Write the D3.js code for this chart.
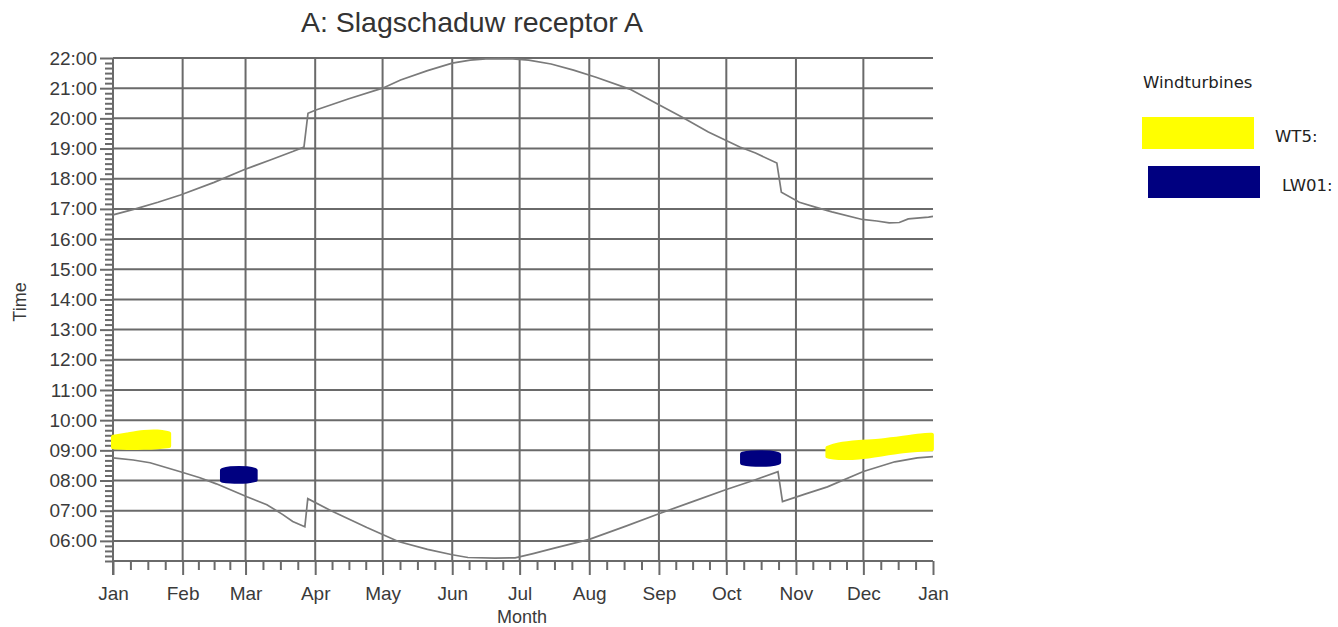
<!DOCTYPE html>
<html>
<head>
<meta charset="utf-8">
<script src="https://cdnjs.cloudflare.com/ajax/libs/d3/7.8.5/d3.min.js"></script>
<style>
  body { margin: 0; background: #fff; }
  text { font-family: "Liberation Sans", Arial, sans-serif; }
</style>
</head>
<body>
<div class="chart"></div>
<script>
var width = 1338;
var height = 627;

// day of year -> time in hours
var sunsetDays  = [0, 10, 20, 30, 45, 58, 70, 80, 85, 86.8, 90, 105, 120, 128, 140, 151, 159, 166, 172, 178, 185, 195, 205, 215, 230, 243, 253, 265, 279, 286, 295.5, 297.5, 305.5, 313, 320, 333.5, 340, 345.5, 350, 354, 363, 365];
var sunsetTimes = [16.8, 17.0, 17.22, 17.46, 17.88, 18.29, 18.62, 18.9, 19.05, 20.17, 20.27, 20.65, 21.0, 21.27, 21.58, 21.83, 21.93, 21.97, 21.98, 21.97, 21.93, 21.8, 21.6, 21.36, 20.97, 20.45, 20.05, 19.55, 19.05, 18.85, 18.52, 17.55, 17.22, 17.05, 16.9, 16.65, 16.6, 16.54, 16.55, 16.67, 16.73, 16.75];

var sunriseDays  = [0, 9, 16.5, 30, 38.7, 46, 59.6, 68.5, 75.6, 80, 85.4, 86.7, 97.8, 113, 127, 140, 151, 158, 170, 179, 187, 196, 212, 228, 243, 258, 273, 285, 296, 298, 308, 318, 334, 348, 358, 365];
var sunriseTimes = [8.75, 8.68, 8.59, 8.29, 8.09, 7.89, 7.46, 7.2, 6.87, 6.64, 6.47, 7.4, 6.97, 6.44, 5.98, 5.72, 5.54, 5.45, 5.43, 5.44, 5.58, 5.75, 6.05, 6.48, 6.9, 7.3, 7.7, 8.0, 8.29, 7.3, 7.55, 7.79, 8.3, 8.62, 8.75, 8.79];

// shadow periods per turbine: [day, from, to]
var wt5Jan  = [[0, 9.1, 9.45], [6, 9.07, 9.52], [14, 9.08, 9.62], [20, 9.1, 9.64], [25, 9.14, 9.56]];
var wt5Dec  = [[318, 8.8, 9.08], [322, 8.74, 9.2], [332, 8.74, 9.28], [342, 8.86, 9.32], [352, 8.98, 9.42], [360, 9.02, 9.5], [364.5, 9.04, 9.52]];
var lw01Mar = [[48.5, 8.0, 8.34], [51, 7.96, 8.42], [61, 7.96, 8.42], [63.5, 8.02, 8.34]];
var lw01Oct = [[280, 8.58, 8.88], [282.5, 8.52, 8.94], [294, 8.52, 8.94], [296.5, 8.6, 8.86]];

var monthLabels = ["Jan", "Feb", "Mar", "Apr", "May", "Jun", "Jul", "Aug", "Sep", "Oct", "Nov", "Dec", "Jan"];
var hourTicks = [6, 7, 8, 9, 10, 11, 12, 13, 14, 15, 16, 17, 18, 19, 20, 21, 22];
var legendNames = ["WT5:", "LW01:"];
var legendColors = ["#ffff00", "#000080"];

var yearStart = Date.UTC(2011, 0, 1);
function dayToDate(d) { return new Date(yearStart + d * 864e5); }

var svg = d3.select(".chart").append("svg")
    .attr("width", width)
    .attr("height", height);

svg.append("rect").attr("width", width).attr("height", height).attr("fill", "#fff");

var x = d3.scaleUtc()
    .domain([new Date(yearStart), new Date(Date.UTC(2012, 0, 1))])
    .range([113, 933]);

var y = d3.scaleLinear()
    .domain([16 / 3, 22])
    .range([561, 58]);

var gridColor = "#6a6a6a";
var monthStarts = d3.utcMonth.range(x.domain()[0], d3.utcDay.offset(x.domain()[1], 1));

// minor x ticks: quarters of every month
var minorX = [];
monthStarts.slice(0, 12).forEach(function (m) {
  var next = d3.utcMonth.offset(m, 1);
  for (var k = 1; k < 4; k++) minorX.push(new Date(+m + (next - m) * k / 4));
});
var minorY = d3.range(16 / 3, 22, 1 / 6).filter(function (h) { return Math.abs(h - Math.round(h)) > 0.01; });

// grid
svg.append("g").attr("class", "hgrid")
  .selectAll("line")
  .data(hourTicks)
  .enter().append("line")
    .attr("x1", x.range()[0]).attr("x2", x.range()[1])
    .attr("y1", function(d) { return y(d); })
    .attr("y2", function(d) { return y(d); })
    .attr("stroke", gridColor).attr("stroke-width", 2);

svg.append("g").attr("class", "vgrid")
  .selectAll("line")
  .data(monthStarts.slice(1, 12))
  .enter().append("line")
    .attr("x1", function(d) { return x(d); })
    .attr("x2", function(d) { return x(d); })
    .attr("y1", y.range()[1]).attr("y2", y.range()[0])
    .attr("stroke", gridColor).attr("stroke-width", 2);

// axes
var xMajor = svg.append("g")
    .attr("transform", "translate(0," + y.range()[0] + ")")
    .call(d3.axisBottom(x).tickValues(monthStarts).tickSize(14).tickPadding(12)
      .tickFormat(function(d, i) { return monthLabels[i]; }));
var xMinor = svg.append("g")
    .attr("transform", "translate(0," + y.range()[0] + ")")
    .call(d3.axisBottom(x).tickValues(minorX).tickSize(9).tickFormat(""));

var yMajor = svg.append("g")
    .attr("transform", "translate(" + x.range()[0] + ",0)")
    .call(d3.axisLeft(y).tickValues(hourTicks).tickSize(13).tickPadding(3)
      .tickFormat(function(d) { return (d < 10 ? "0" : "") + d + ":00"; }));
var yMinor = svg.append("g")
    .attr("transform", "translate(" + x.range()[0] + ",0)")
    .call(d3.axisLeft(y).tickValues(minorY).tickSize(8).tickFormat(""));

xMinor.select(".domain").remove();
yMinor.select(".domain").remove();
xMajor.select(".domain").attr("d", "M" + x.range()[0] + ",0H" + x.range()[1]);
yMajor.select(".domain").attr("d", "M0," + y.range()[1] + "V" + (y.range()[0] + 14));
svg.selectAll(".domain").attr("stroke", gridColor).attr("stroke-width", 2);
svg.selectAll(".tick line").attr("stroke", gridColor).attr("stroke-width", 2);
svg.selectAll(".tick text").attr("fill", "#3a3a3a").style("font-size", "19px")
    .style("font-family", "'Liberation Sans', Arial, sans-serif");

// sun curves
var line = d3.line()
    .x(function(d) { return x(dayToDate(d[0])); })
    .y(function(d) { return y(d[1]); });

[[sunsetDays, sunsetTimes], [sunriseDays, sunriseTimes]].forEach(function (s) {
  svg.append("path")
      .datum(d3.zip(s[0], s[1]))
      .attr("fill", "none")
      .attr("stroke", "#7a7a7a")
      .attr("stroke-width", 1.7)
      .attr("d", line);
});

// shadow blobs
var area = d3.area()
    .curve(d3.curveBasis)
    .x(function(d) { return x(dayToDate(d[0])); })
    .y0(function(d) { return y(d[1]); })
    .y1(function(d) { return y(d[2]); });

[[wt5Jan, 0], [wt5Dec, 0], [lw01Mar, 1], [lw01Oct, 1]].forEach(function (b) {
  svg.append("path")
      .datum(b[0])
      .attr("fill", legendColors[b[1]])
      .attr("stroke", legendColors[b[1]])
      .attr("stroke-width", 4)
      .attr("stroke-linejoin", "round")
      .attr("d", area);
});

// titles
svg.append("text")
    .attr("x", 472).attr("y", 32)
    .attr("text-anchor", "middle")
    .attr("fill", "#333")
    .style("font-size", "28.5px")
    .text("A: Slagschaduw receptor A");

svg.append("text")
    .attr("x", 522).attr("y", 623)
    .attr("text-anchor", "middle")
    .attr("fill", "#3a3a3a")
    .style("font-size", "18px")
    .text("Month");

svg.append("text")
    .attr("transform", "translate(26,302) rotate(-90)")
    .attr("text-anchor", "middle")
    .attr("fill", "#3a3a3a")
    .style("font-size", "18px")
    .text("Time");

// legend
var legend = svg.append("g").attr("class", "legend");
legend.append("text")
    .attr("x", 1143).attr("y", 88)
    .attr("fill", "#222")
    .style("font-family", "'DejaVu Sans', Verdana, sans-serif")
    .style("font-size", "16.5px")
    .text("Windturbines");

var items = legend.selectAll(".item")
    .data(legendNames)
  .enter().append("g")
    .attr("class", "item")
    .attr("transform", function(d, i) { return "translate(" + (1142 + i * 6) + "," + (117 + i * 49) + ")"; });

items.append("rect")
    .attr("width", 112).attr("height", 32)
    .attr("fill", function(d, i) { return legendColors[i]; });

items.append("text")
    .attr("x", function(d, i) { return 133 + i * 1; })
    .attr("y", 25)
    .attr("fill", "#222")
    .style("font-family", "'DejaVu Sans', Verdana, sans-serif")
    .style("font-size", "16.5px")
    .text(function(d) { return d; });
</script>
</body>
</html>
